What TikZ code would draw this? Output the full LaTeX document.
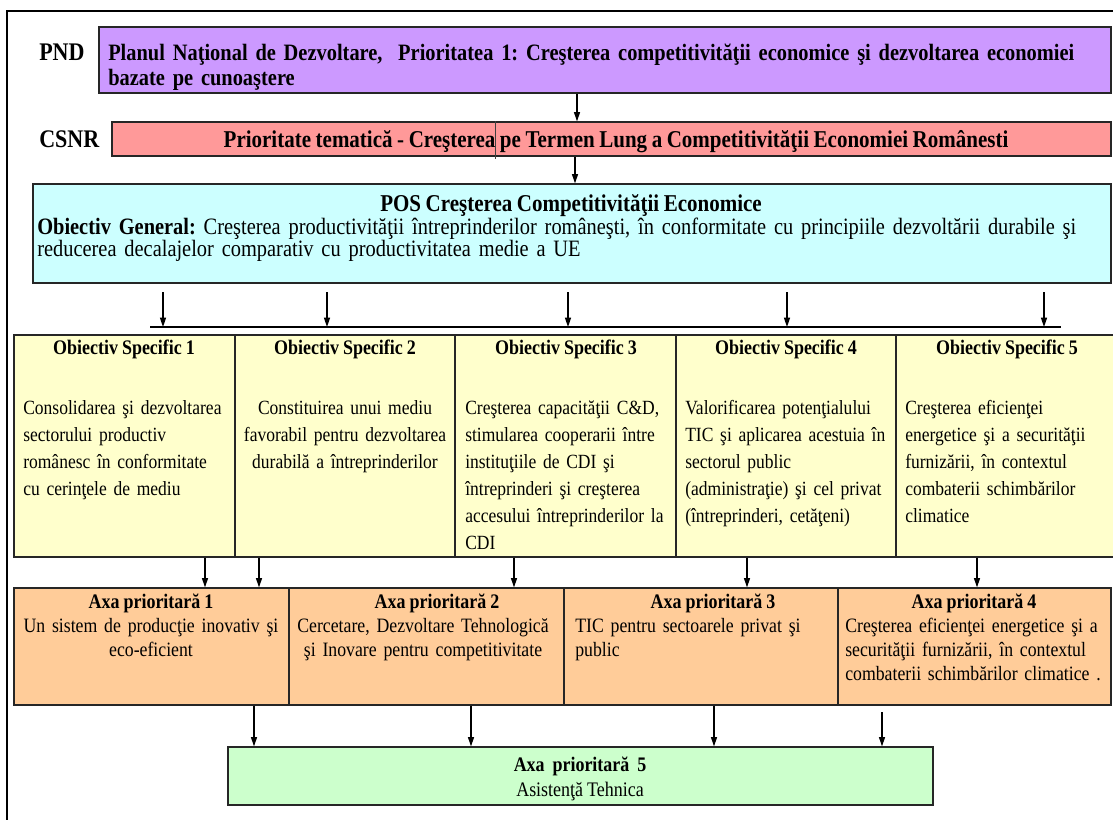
\documentclass[tikz,border=0pt]{standalone}
\usepackage{fontspec}
\setmainfont{Liberation Serif}[FakeStretch=0.87,WordSpace=0.87]
\usetikzlibrary{arrows.meta,fit}
\newdimen\pxu \pxu=0.75pt
\definecolor{cPND}{HTML}{CC99FF}
\definecolor{cCSNR}{HTML}{FF9999}
\definecolor{cPOS}{HTML}{CCFFFF}
\definecolor{cOS}{HTML}{FFFFCC}
\definecolor{cAP}{HTML}{FFCC99}
\definecolor{cAPV}{HTML}{CCFFCC}
\newcommand\fPND{\fontsize{17.6pt}{18.75pt}\selectfont}
\newcommand\fCSNR{\fontsize{18.1pt}{18.75pt}\selectfont}
\newcommand\fPOST{\fontsize{18.1pt}{16.9pt}\selectfont}
\newcommand\fPOS{\fontsize{17.6pt}{16.9pt}\selectfont}
\newcommand\fLab{\fontsize{19pt}{19pt}\selectfont}
\newcommand\fOST{\fontsize{15.5pt}{20.25pt}\selectfont}
\newcommand\fOS{\fontsize{15.1pt}{20.25pt}\selectfont}
\newcommand\fAPT{\fontsize{15.5pt}{18pt}\selectfont}
\newcommand\fAP{\fontsize{15.3pt}{18pt}\selectfont}
\newcommand\fGr{\fontsize{15.5pt}{19.5pt}\selectfont}
\frenchspacing
\begin{document}
\frenchspacing
\begin{tikzpicture}[x=0.75pt,y=-0.75pt,
  box/.style={draw=black!85, line width=0.9pt, inner sep=0pt},
  txt/.style={inner sep=0pt, text=black},
  arr/.style={draw=black, line width=1pt, -{Triangle[length=7pt,width=4.5pt]}},
  frameline/.style={draw=black, line width=1.9pt},
  barline/.style={draw=black, line width=1.1pt}]
\useasboundingbox (0,0) rectangle (1113,820);
\fill[white] (0,0) rectangle (1113,820);
\draw[frameline] (1125,11) -- (7,11) -- (7,830);

% boxes
\node[box, fill=cPND, fit={(99,27) (1111,93)}] (pnd) {};
\node[box, fill=cCSNR, fit={(112,122) (1111,156)}] (csnr) {};
\node[box, fill=cPOS, fit={(33,184) (1111,283)}] (pos) {};
\node[box, fill=cOS, fit={(14,335) (235,557)}] (os1) {};
\node[box, fill=cOS, fit={(235,335) (455,557)}] (os2) {};
\node[box, fill=cOS, fit={(455,335) (676,557)}] (os3) {};
\node[box, fill=cOS, fit={(676,335) (896,557)}] (os4) {};
\node[box, fill=cOS, fit={(896,335) (1125,557)}] (os5) {};
\node[box, fill=cAP, fit={(14,588) (289,705)}] (ap1) {};
\node[box, fill=cAP, fit={(289,588) (564,705)}] (ap2) {};
\node[box, fill=cAP, fit={(564,588) (838,705)}] (ap3) {};
\node[box, fill=cAP, fit={(838,588) (1111,705)}] (ap4) {};
\node[box, fill=cAPV, fit={(228,747) (933,805)}] (ap5) {};
\draw[line width=0.6pt, black!75] (495,0 |- csnr.north) -- (495,159);

% labels
\node[txt, anchor=base west, font=\fLab\bfseries] (lpnd) at (39,61) {PND};
\node[txt, anchor=base west, font=\fLab\bfseries] (lcsnr) at (39,147) {CSNR};

% top texts
\node[txt, anchor=base west, font=\fPND\bfseries, text width=1000\pxu, align=left] (tpnd) at (108,61)
  {Planul Naţional de Dezvoltare,\ \ Prioritatea 1: Creşterea competitivităţii economice şi dezvoltarea economiei\\bazate pe cunoaştere};
\node[txt, anchor=base, font=\fCSNR\bfseries] (tcsnr) at (616,147)
  {Prioritate tematică - Creşterea pe Termen Lung a Competitivităţii Economiei Românesti};
\node[txt, anchor=base, font=\fPOST\bfseries] (tpos) at (571,211) {POS Creşterea Competitivităţii Economice};
\node[txt, anchor=base west, font=\fPOS, text width=1062\pxu, align=left] (tposb) at (37,234)
  {\makebox[\linewidth][s]{\textbf{Obiectiv General:} Creşterea productivităţii întreprinderilor româneşti, în conformitate cu principiile dezvoltării durabile şi}\\
   reducerea decalajelor comparativ cu productivitatea medie a UE};

% bar and arrows from POS
\coordinate (barL) at (150,327);
\coordinate (barR) at (1061,327);
\draw[barline] (barL) -- (barR);
\draw[arr] (577,0 |- pnd.south) -- (577,0 |- csnr.north);
\draw[arr] (575,0 |- csnr.south) -- (575,0 |- pos.north);
\foreach \x in {163,327,568,787,1044} \draw[arr] (\x,292) -- (\x,0 |- barL);

% objective specific
\foreach \c/\n in {124/1,345/2,566/3,786/4,1007/5}
  \node[txt, anchor=base, font=\fOST\bfseries] (ost\n) at (\c,354) {Obiectiv Specific \n};
\node[txt, anchor=base west, font=\fOS, text width=215\pxu, align=left] (osb1) at (23,414)
  {Consolidarea şi dezvoltarea\\sectorului productiv\\românesc în conformitate\\cu cerinţele de mediu};
\node[txt, anchor=base, font=\fOS, text width=215\pxu, align=center] (osb2) at (345,414)
  {Constituirea unui mediu\\favorabil pentru dezvoltarea\\durabilă a întreprinderilor};
\node[txt, anchor=base west, font=\fOS, text width=205\pxu, align=left] (osb3) at (465,414)
  {\makebox[\linewidth][s]{Creşterea capacităţii C\&D,}\\
   \makebox[\linewidth][s]{stimularea cooperarii între}\\
   \makebox[\linewidth][s]{instituţiile de CDI şi}\\
   \makebox[\linewidth][s]{întreprinderi şi creşterea}\\
   \makebox[\linewidth][s]{accesului întreprinderilor la}\\
   CDI};
\node[txt, anchor=base west, font=\fOS, text width=197\pxu, align=left] (osb4) at (685,414)
  {\makebox[\linewidth][s]{Valorificarea potenţialului}\\
   \makebox[\linewidth][s]{TIC şi aplicarea acestuia în}\\
   sectorul public\\
   \makebox[\linewidth][s]{(administraţie) şi cel privat}\\
   (întreprinderi, cetăţeni)};
\node[txt, anchor=base west, font=\fOS, text width=205\pxu, align=left] (osb5) at (905,414)
  {Creşterea eficienţei\\energetice şi a securităţii\\furnizării, în contextul\\combaterii schimbărilor\\climatice};

% arrows OS -> AP
\draw[arr] (205,0 |- os1.south) -- (205,0 |- ap1.north);
\draw[arr] (259,0 |- os2.south) -- (259,0 |- ap1.north);
\draw[arr] (514,0 |- os3.south) -- (514,0 |- ap2.north);
\draw[arr] (747,0 |- os4.south) -- (747,0 |- ap3.north);
\draw[arr] (977,0 |- os5.south) -- (977,0 |- ap4.north);

% axe prioritare
\node[txt, anchor=base, font=\fAPT\bfseries] (apt1) at (151,608) {Axa prioritară 1};
\node[txt, anchor=base, font=\fAP, text width=270\pxu, align=center] (apb1) at (151,632)
  {Un sistem de producţie inovativ şi\\eco-eficient};
\node[txt, anchor=base, font=\fAPT\bfseries] (apt2) at (437,608) {Axa prioritară 2};
\node[txt, anchor=base, font=\fAP, text width=270\pxu, align=center] (apb2) at (423,632)
  {Cercetare, Dezvoltare Tehnologică\\şi Inovare pentru competitivitate};
\node[txt, anchor=base, font=\fAPT\bfseries] (apt3) at (713,608) {Axa prioritară 3};
\node[txt, anchor=base west, font=\fAP, text width=260\pxu, align=left] (apb3) at (575,632)
  {TIC pentru sectoarele privat şi\\public};
\node[txt, anchor=base, font=\fAPT\bfseries] (apt4) at (974,608) {Axa prioritară 4};
\node[txt, anchor=base west, font=\fAP, text width=262\pxu, align=left] (apb4) at (845,632)
  {Creşterea eficienţei energetice şi a\\securităţii furnizării, în contextul\\combaterii schimbărilor climatice .};

% arrows AP -> AP5
\draw[arr] (254,0 |- ap1.south) -- (254,0 |- ap5.north);
\draw[arr] (471,0 |- ap2.south) -- (471,0 |- ap5.north);
\draw[arr] (714,0 |- ap3.south) -- (714,0 |- ap5.north);
\draw[arr] (882,712) -- (882,0 |- ap5.north);

\node[txt, anchor=base, font=\fGr\bfseries] (apt5) at (580,771) {Axa\ \ prioritară\ \ 5};
\node[txt, anchor=base, font=\fGr] (apb5) at (580,796) {Asistenţă Tehnica};
\end{tikzpicture}
\end{document}
